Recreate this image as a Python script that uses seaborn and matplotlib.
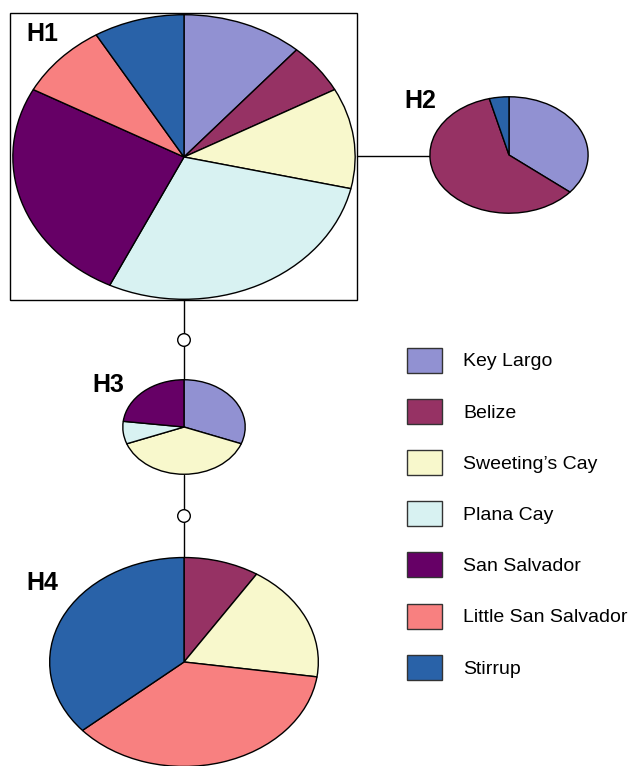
import matplotlib
matplotlib.use("Agg")
import matplotlib.pyplot as plt
from matplotlib.patches import Rectangle, Circle
import seaborn as sns

sns.set_style("white")
plt.rcParams['font.family'] = ['Liberation Sans', 'DejaVu Sans']
plt.rcParams['text.color'] = 'black'

# populations and colours
populations = ['Key Largo', 'Belize', "Sweeting’s Cay", 'Plana Cay',
               'San Salvador', 'Little San Salvador', 'Stirrup']
colors = sns.color_palette(['#9191d2', '#963264', '#f8f8cc', '#d8f2f2',
                            '#660066', '#f88080', '#2962a8'])

# haplotype counts per population (same order as populations)
haplotypes = ['H1', 'H2', 'H3', 'H4']
h1_counts = [4, 2, 4, 10, 9, 3, 3]
h2_counts = [9, 15, 0, 0, 0, 0, 1]
h3_counts = [4, 0, 5, 1, 3, 0, 0]
h4_counts = [0, 1, 2, 0, 0, 4, 4]
counts = [h1_counts, h2_counts, h3_counts, h4_counts]

W, H = 631, 766
fig = plt.figure(figsize=(W / 100, H / 100), dpi=100)
ax = fig.add_axes([0, 0, 1, 1])
ax.set_xlim(0, W)
ax.set_ylim(H, 0)
ax.axis('off')

# node layout in pixels: centre x, centre y, half width, half height
nodes = {'H1': (184, 157, 172, 143),
         'H2': (509, 155, 79.5, 58.5),
         'H3': (184, 427, 61.5, 47.5),
         'H4': (184, 662, 135, 105)}
label_pos = {'H1': (26, 34), 'H2': (404, 101), 'H3': (92, 385), 'H4': (26, 583)}

# network links
ax.plot([357, 430], [156, 156], color='black', lw=1, zorder=1)
ax.plot([184, 184], [300, 380], color='black', lw=1, zorder=1)
ax.plot([184, 184], [475, 557], color='black', lw=1, zorder=1)
for cy in [340, 516]:
    ax.add_patch(Circle((184, cy), 6.3, facecolor='white', edgecolor='black',
                        lw=1, zorder=3))

# box round H1
ax.add_patch(Rectangle((10, 13), 347, 287, fill=False, edgecolor='black', lw=1))

for name, vals in zip(haplotypes, counts):
    cx, cy, rx, ry = nodes[name]
    pax = fig.add_axes([(cx - rx) / W, 1 - (cy + ry) / H, 2 * rx / W, 2 * ry / H])
    keep = [i for i, v in enumerate(vals) if v > 0]
    pax.pie([vals[i] for i in keep], colors=[colors[i] for i in keep],
            startangle=90, counterclock=False, radius=1,
            wedgeprops=dict(edgecolor='black', linewidth=1))
    pax.set_aspect('auto')
    pax.set_xlim(-1.005, 1.005)
    pax.set_ylim(-1.005, 1.005)
    pax.axis('off')
    lx, ly = label_pos[name]
    ax.text(lx, ly, name, fontsize=18, fontweight='bold', ha='left', va='center',
            color='black')

# legend
for i, (pop, col) in enumerate(zip(populations, colors)):
    y = 360 + i * 51.2
    ax.add_patch(Rectangle((407, y - 12.5), 35, 25, facecolor=col,
                           edgecolor='#333333', lw=1))
    ax.text(463, y + 2, pop, fontsize=14, ha='left', va='center', color='black')

fig.savefig('out.png', dpi=100)
